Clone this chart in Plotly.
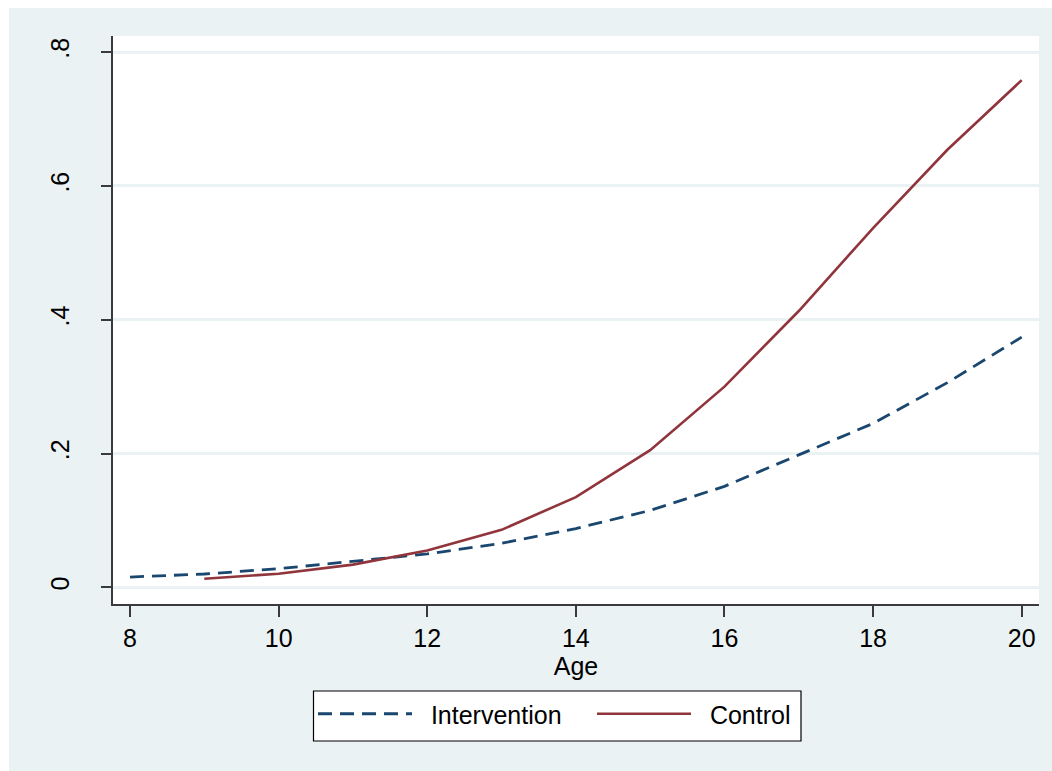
import plotly.graph_objects as go

# Age in years
age_intervention = [8, 9, 10, 11, 12, 13, 14, 15, 16, 17, 18, 19, 20]
age_control = [9, 10, 11, 12, 13, 14, 15, 16, 17, 18, 19, 20]

# Predicted probability by age
prob_intervention = [0.0155, 0.020, 0.028, 0.039, 0.050, 0.066, 0.088, 0.115, 0.151, 0.198, 0.245, 0.306, 0.374]
prob_control = [0.013, 0.0205, 0.034, 0.055, 0.086, 0.135, 0.205, 0.300, 0.413, 0.537, 0.654, 0.758]

series_names = ["Intervention", "Control"]

y_tick_vals = [0, 0.2, 0.4, 0.6, 0.8]
y_tick_text = ["0", ".2", ".4", ".6", ".8"]
x_tick_vals = [8, 10, 12, 14, 16, 18, 20]

NAVY = "#1A476F"
MAROON = "#90353B"
BG = "#EAF2F3"
AXIS = "#3a3a3a"
FONT = "Liberation Sans, Arial, sans-serif"
NBSP = "\u00a0"

fig = go.Figure()
fig.add_trace(go.Scatter(
    x=age_intervention, y=prob_intervention, mode="lines",
    name=NBSP * 2 + series_names[0],
    line=dict(color=NAVY, width=2.8, dash="14px,8px"),
))
fig.add_trace(go.Scatter(
    x=age_control, y=prob_control, mode="lines",
    name=NBSP * 2 + series_names[1],
    line=dict(color=MAROON, width=2.6),
))

W, H = 1052, 771
L, R, T, B = 113, 13, 36, 167
pw, ph = W - L - R, H - T - B


def px_x(p):
    return (p - L) / pw


def px_y(p):
    return (H - B - p) / ph


fig.update_layout(
    width=W, height=H,
    margin=dict(l=L, r=R, t=T, b=B, pad=0),
    paper_bgcolor=BG,
    plot_bgcolor="white",
    font=dict(family=FONT, size=25, color="black"),
    showlegend=True,
    legend=dict(
        orientation="h",
        x=px_x(313), y=px_y(691), xanchor="left", yanchor="top",
        bgcolor="rgba(0,0,0,0)", borderwidth=0,
        itemwidth=94,
        entrywidth=170,
        font=dict(family=FONT, size=25, color="black"),
        traceorder="normal",
    ),
    shapes=[
        # white strips along the top and left edges of the image
        dict(type="rect", xref="paper", yref="paper",
             x0=px_x(0), x1=px_x(W), y0=px_y(0), y1=px_y(8),
             fillcolor="white", line=dict(width=0), layer="below"),
        dict(type="rect", xref="paper", yref="paper",
             x0=px_x(0), x1=px_x(9), y0=px_y(0), y1=px_y(H),
             fillcolor="white", line=dict(width=0), layer="below"),
        # legend frame
        dict(type="rect", xref="paper", yref="paper",
             x0=px_x(313.5), x1=px_x(801), y0=px_y(691), y1=px_y(741),
             fillcolor="white", line=dict(color="black", width=1.2), layer="below"),
    ],
)

fig.update_xaxes(
    range=[7.771, 20.233],
    tickvals=x_tick_vals,
    ticks="outside", ticklen=11, tickwidth=1.5, tickcolor=AXIS,
    showline=True, linecolor=AXIS, linewidth=1.5,
    showgrid=False, zeroline=False,
    tickfont=dict(family=FONT, size=25, color="black"),
    title=dict(text="Age", font=dict(family=FONT, size=25, color="black"), standoff=0),
)
fig.update_yaxes(
    range=[-0.0248, 0.824],
    tickvals=y_tick_vals, ticktext=y_tick_text,
    tickangle=-90,
    ticks="outside", ticklen=10, tickwidth=1.5, tickcolor=AXIS,
    showline=True, linecolor=AXIS, linewidth=1.5,
    showgrid=True, gridcolor=BG, gridwidth=2.5,
    zeroline=False,
    tickfont=dict(family=FONT, size=25, color="black"),
    ticklabelstandoff=22,
)

fig.write_html("out.html")
